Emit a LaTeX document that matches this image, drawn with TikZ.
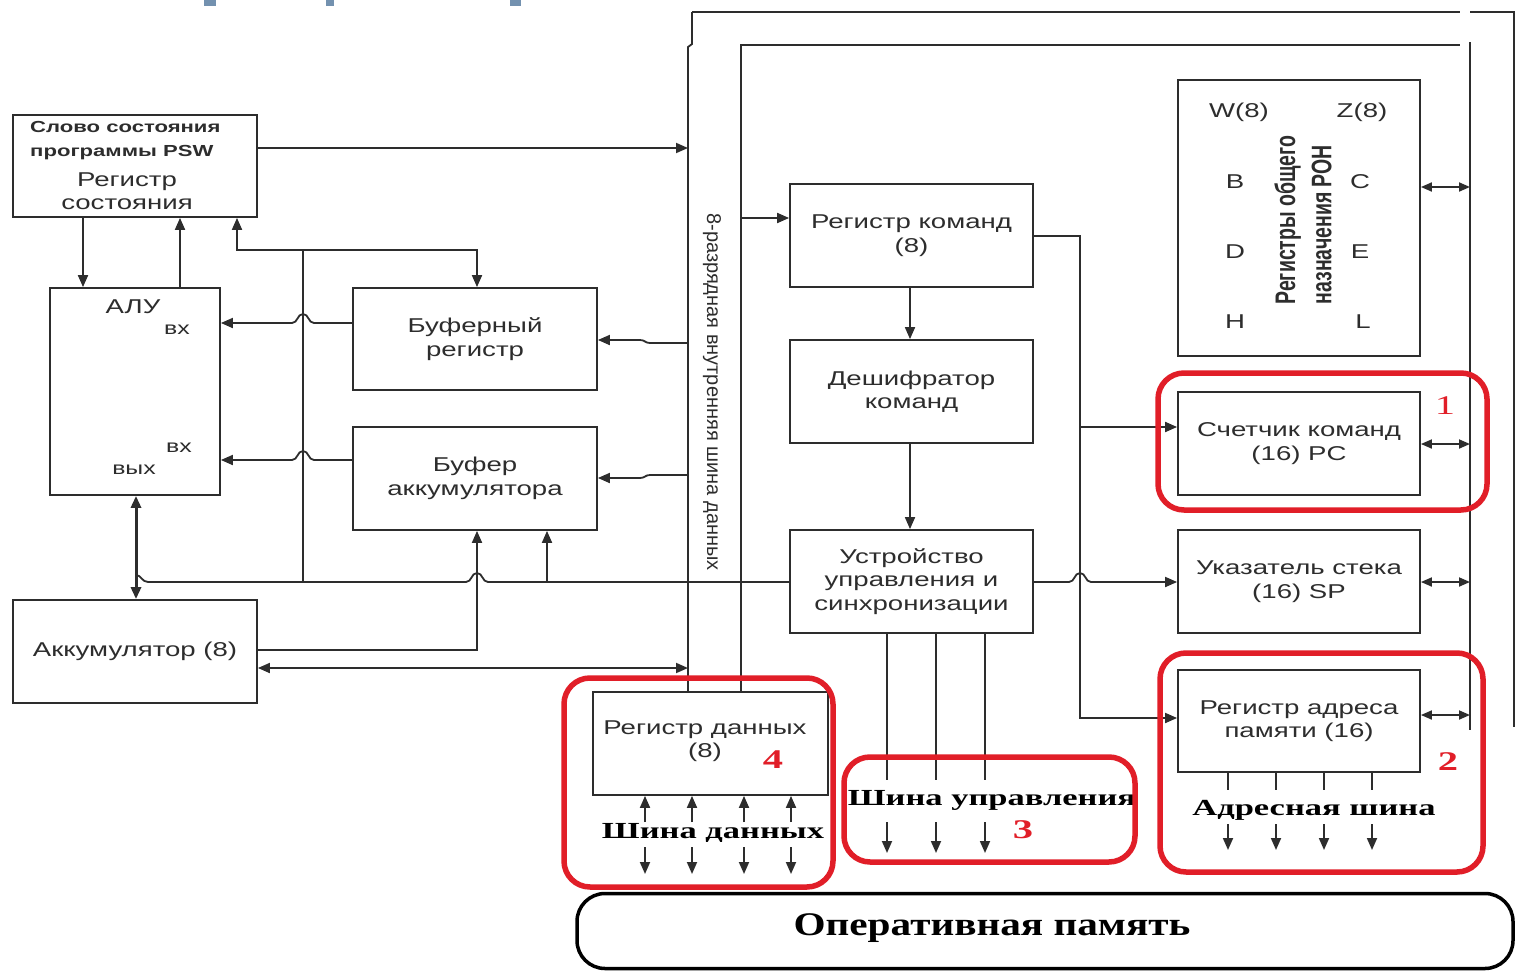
\documentclass[tikz,border=0pt]{standalone}
\usepackage{fontspec}
\setmainfont[FakeStretch=1.38]{Liberation Sans}
\newfontfamily\plainsans{Liberation Sans}
\newfontfamily\serifst[FakeStretch=1.5]{Liberation Serif}
\newfontfamily\serifmem[FakeStretch=1.25]{Liberation Serif}
\usetikzlibrary{arrows.meta,calc}
\definecolor{lc}{RGB}{45,45,45}
\definecolor{redc}{RGB}{225,30,40}
\definecolor{bluec}{RGB}{115,145,175}
\tikzset{
 blk/.style={draw=lc, line width=1.8pt, inner sep=0pt, align=center, text=lc, font=\fontsize{20}{23.5}\selectfont},
 txt/.style={inner sep=0pt, text=lc, font=\fontsize{20}{23.5}\selectfont},
 ln/.style={draw=lc, line width=1.8pt},
 arr/.style={ln, -{Triangle[length=12pt,width=10pt]}},
 darr/.style={ln, {Triangle[length=12pt,width=10pt]}-{Triangle[length=12pt,width=10pt]}},
 sarr/.style={ln, {Triangle[length=11pt,width=9pt]}-{Triangle[length=11pt,width=9pt]}},
 barr/.style={ln, -{Triangle[length=12pt,width=10pt]}},
 redbox/.style={draw=redc, line width=5.5pt, rounded corners=26pt},
 btxt/.style={inner sep=0pt, text=black, font=\serifst\bfseries\fontsize{23}{27}\selectfont},
 num/.style={inner sep=0pt, text=redc, font=\serifst\fontsize{27}{30}\selectfont},
}
\begin{document}
\begin{tikzpicture}[x=1pt,y=-1pt]
\useasboundingbox (0,0) rectangle (1516,972);
\fill[white] (0,0) rectangle (1516,972);
% heading fragments
\fill[bluec] (204,0) rectangle (216,6);
\fill[bluec] (326,0) rectangle (334,6);
\fill[bluec] (510,0) rectangle (521,6);

% blocks
\node[blk, minimum width=244, minimum height=102] (psw) at (135,166) {};
\node[txt, font=\bfseries\fontsize{16}{24}\selectfont, align=left, anchor=north west] (pswt) at (30,121) {Слово состояния\\программы PSW};
\node[txt, align=center] (pswr) at (127,191) {Регистр\\состояния};
\node[blk, minimum width=170, minimum height=207] (alu) at (135,391.5) {};
\node[txt] (alut) at (133,307) {АЛУ};
\node[txt, font=\fontsize{18}{20}\selectfont] (alui1) at (177,330) {вх};
\node[txt, font=\fontsize{18}{20}\selectfont] (alui2) at (179,448) {вх};
\node[txt, font=\fontsize{18}{20}\selectfont] (aluo) at (134,470) {вых};
\node[blk, minimum width=244, minimum height=102] (bufreg) at (475,339) {Буферный\\регистр};
\node[blk, minimum width=244, minimum height=103] (bufacc) at (475,478.5) {Буфер\\аккумулятора};
\node[blk, minimum width=244, minimum height=103] (acc) at (135,651.5) {Аккумулятор (8)};
\node[blk, minimum width=243, minimum height=103] (regcmd) at (911.5,235.5) {Регистр команд\\(8)};
\node[blk, minimum width=243, minimum height=103] (decoder) at (911.5,391.5) {Дешифратор\\команд};
\node[blk, minimum width=243, minimum height=103] (ctrl) at (911.5,581.5) {Устройство\\управления и\\синхронизации};
\node[blk, minimum width=242, minimum height=276] (ron) at (1299,218) {};
\node[txt] (rw) at (1239,112) {W(8)};
\node[txt] (rz) at (1362,112) {Z(8)};
\node[txt] (rb) at (1235,182) {B};
\node[txt] (rc) at (1360,182) {C};
\node[txt] (rd) at (1235,252) {D};
\node[txt] (re) at (1360,252) {E};
\node[txt] (rh) at (1235,322) {H};
\node[txt] (rl) at (1363,322) {L};
\node[inner sep=0pt, rotate=90, yscale=1.45, align=left, text=lc, font=\plainsans\bfseries\fontsize{19.5}{25}\selectfont] (ronl) at (1303,220) {Регистры общего\\назначения РОН};
\node[blk, minimum width=242, minimum height=103] (pc) at (1299,443.5) {Счетчик команд\\(16) PC};
\node[blk, minimum width=242, minimum height=103] (sp) at (1299,581.5) {Указатель стека\\(16) SP};
\node[blk, minimum width=242, minimum height=102] (mar) at (1299,721) {Регистр адреса\\памяти (16)};
\node[blk, minimum width=235, minimum height=103] (dreg) at (710.5,743.5) {};
\node[txt, align=center] (dregt) at (705,741) {Регистр данных\\(8)};

% internal data bus
\coordinate (busA) at (688,0);
\coordinate (busB) at (741,0);
\coordinate (busR) at (1470,0);
\draw[ln] (692,12) -- (1460,12);
\draw[ln] (1470,12) -- (1514,12) -- (1514,727);
\draw[ln] (692,12) -- (692,44) -- (688,47) -- (busA |- dreg.north);
\draw[ln] (busB |- dreg.north) -- (741,45) -- (1460,45);
\draw[ln] (1470,42) -- (1470,730);
\node[inner sep=0pt, rotate=-90, text=lc, font=\plainsans\fontsize{20}{24}\selectfont] (buslbl) at (712,392) {8-разрядная внутренняя шина данных};

% left part connectors
\draw[arr] (psw.east |- 0,148) -- (busA |- 0,148);
\draw[arr] (psw.south -| 83,0) -- (alu.north -| 83,0);
\draw[arr] (alu.north -| 180,0) -- (psw.south -| 180,0);
\coordinate (j1) at (303,250);
\draw[arr] (j1) -- (237,250) -- (psw.south -| 237,0);
\draw[arr] (j1) -- (477,250) -- (bufreg.north -| 477,0);
\draw[ln] (j1) -- (303,582);
\draw[arr] (bufreg.west |- 0,323) -- (314,323) .. controls (308,323) and (309,314) .. (303,314) .. controls (297,314) and (298,323) .. (292,323) -- (alu.east |- 0,323);
\draw[arr] (bufacc.west |- 0,460) -- (314,460) .. controls (308,460) and (309,451) .. (303,451) .. controls (297,451) and (298,460) .. (292,460) -- (alu.east |- 0,460);
\draw[arr] (busA |- 0,343) -- (650,343) .. controls (645,343) and (645,340) .. (640,340) -- (bufreg.east |- 0,340);
\draw[arr] (busA |- 0,475) -- (650,475) .. controls (645,475) and (645,478) .. (640,478) -- (bufacc.east |- 0,478);
\draw[darr, line width=3pt] (alu.south -| 136,0) -- (acc.north -| 136,0);
\draw[ln] (136,575) .. controls (141,575) and (142,582) .. (148,582) -- (466,582) .. controls (472,582) and (471,573) .. (477,573) .. controls (483,573) and (482,582) .. (488,582) -- (ctrl.west |- 0,582);
\draw[arr] (acc.east |- 0,650) -- (477,650) -- (bufacc.south -| 477,0);
\draw[arr] (547,582) -- (bufacc.south -| 547,0);
\draw[darr] (acc.east |- 0,668) -- (busA |- 0,668);

% centre part connectors
\draw[arr] (busB |- 0,218) -- (regcmd.west |- 0,218);
\draw[arr] (regcmd.south -| 910,0) -- (decoder.north -| 910,0);
\draw[arr] (decoder.south -| 910,0) -- (ctrl.north -| 910,0);
\draw[arr] (regcmd.east |- 0,236) -- (1080,236) -- (1080,718) -- (mar.west |- 0,718);
\draw[arr] (1080,427) -- (pc.west |- 0,427);
\draw[arr] (ctrl.east |- 0,582) -- (1069,582) .. controls (1075,582) and (1074,573) .. (1080,573) .. controls (1086,573) and (1085,582) .. (1091,582) -- (sp.west |- 0,582);

% right short bidirectional arrows
\draw[sarr] (ron.east |- 0,187) -- (busR |- 0,187);
\draw[sarr] (pc.east |- 0,444) -- (busR |- 0,444);
\draw[sarr] (sp.east |- 0,582) -- (busR |- 0,582);
\draw[sarr] (mar.east |- 0,715) -- (busR |- 0,715);

% buses to memory
\foreach \xx in {645,692,744,791} {
  \draw[barr] (\xx,822) -- (\xx,0 |- dreg.south);
  \draw[barr] (\xx,847) -- (\xx,874);
}
\foreach \xx in {887,936,985} {
  \draw[ln] (\xx,0 |- ctrl.south) -- (\xx,780);
  \draw[barr] (\xx,822) -- (\xx,853);
}
\foreach \xx in {1228,1276,1324,1372} {
  \draw[ln] (\xx,0 |- mar.south) -- (\xx,790);
  \draw[barr] (\xx,824) -- (\xx,850);
}
\node[btxt] (tctl) at (992,800) {Шина управления};
\node[btxt] (taddr) at (1314,810) {Адресная шина};
\node[btxt] (tdat) at (713,833) {Шина данных};

% main memory
\node[draw=black, line width=3.5pt, rounded corners=28pt, minimum width=936, minimum height=75, inner sep=0pt] (mem) at (1045,931) {};
\node[inner sep=0pt, text=black, font=\serifmem\bfseries\fontsize{33}{36}\selectfont] (memt) at (992,928) {Оперативная память};

% red highlight frames
\draw[redbox] (1158,373) rectangle (1487,510);
\draw[redbox] (1160,653) rectangle (1483,872);
\draw[redbox] (844,757) rectangle (1135,862);
\draw[redbox] (564,678) rectangle (833,887);
\node[num] (n1) at (1445,406) {1};
\node[num, font=\serifst\bfseries\fontsize{27}{30}\selectfont] (n2) at (1448,762) {2};
\node[num, font=\serifst\bfseries\fontsize{27}{30}\selectfont] (n3) at (1023,830) {3};
\node[num, font=\serifst\bfseries\fontsize{27}{30}\selectfont] (n4) at (773,760) {4};
\end{tikzpicture}
\end{document}
